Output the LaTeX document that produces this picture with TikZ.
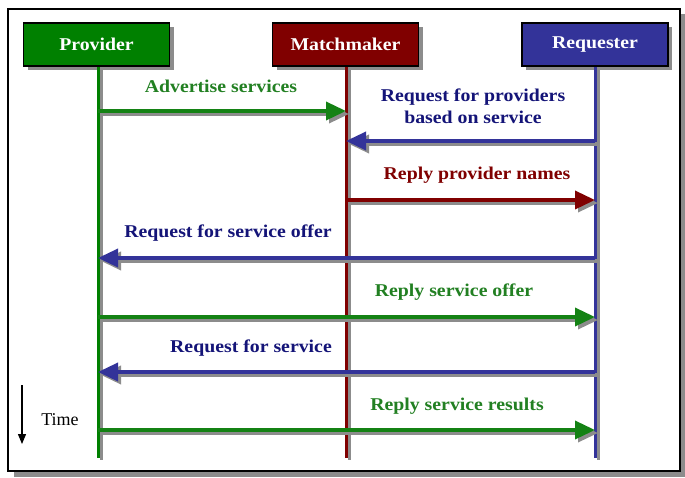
\documentclass[tikz,border=0pt]{standalone}
\usepackage{fontspec}
\setmainfont{Liberation Serif}
\newfontfamily\widefont[FakeStretch=1.1]{Liberation Serif}
\usetikzlibrary{arrows.meta,shadows}
\definecolor{provgreen}{RGB}{0,128,0}
\definecolor{msggreen}{RGB}{20,130,20}
\definecolor{txtgreen}{RGB}{34,128,34}
\definecolor{mmred}{RGB}{128,0,0}
\definecolor{reqblue}{RGB}{51,51,153}
\definecolor{txtblue}{RGB}{20,20,120}
\definecolor{shgray}{RGB}{140,140,140}
\begin{document}
\begin{tikzpicture}[x=1pt,y=-1pt,
  actor/.style={draw=black, line width=1.5pt, fill=#1, text=white, font=\widefont\fontsize{18}{21}\selectfont\bfseries,
    minimum width=146pt, minimum height=43pt, inner sep=0pt,
    drop shadow={shadow xshift=4pt, shadow yshift=-4pt, fill=shgray, opacity=1}},
  lifeline/.style={draw=#1, line width=3pt,
    preaction={draw=shgray, line width=3pt, transform canvas={shift={(3,2)}}}},
  msg/.style={draw=#1, line width=3.5pt, -{Triangle[length=20pt,width=18pt]},
    preaction={draw=shgray, line width=3.5pt, -{Triangle[length=20pt,width=18pt]}, transform canvas={shift={(3,3)}}}},
  lbl/.style={text=#1, font=\widefont\fontsize{18}{22}\selectfont\bfseries, inner sep=0pt, align=center}
]
\useasboundingbox (0,0) rectangle (685,477);
% frame
\fill[shgray] (14,14) rectangle (685,477);
\draw[line width=1.5pt, fill=white] (8,9) rectangle (680,471);

% actors
\node[actor=provgreen] (prov) at (96.5,44.5) {Provider};
\node[actor=mmred] (mm) at (345.5,44.5) {Matchmaker};
\node[actor=reqblue] (req) at (595,44.5) {Requester};

% lifeline ends
\coordinate (provend) at (98,458);
\coordinate (mmend) at (346,458);
\coordinate (reqend) at (595,458);
\draw[lifeline=provgreen] (prov.south -| provend) -- (provend);
\draw[lifeline=mmred] (mm.south -| mmend) -- (mmend);
\draw[lifeline=reqblue] (req.south -| reqend) -- (reqend);

% message points
\coordinate (p1) at (98,111);  \coordinate (m1) at (346,111);
\coordinate (r2) at (595,141); \coordinate (m2) at (346,141);
\coordinate (m3) at (346,200); \coordinate (r3) at (595,200);
\coordinate (r4) at (595,258); \coordinate (p4) at (98,258);
\coordinate (p5) at (98,317);  \coordinate (r5) at (595,317);
\coordinate (r6) at (595,372); \coordinate (p6) at (98,372);
\coordinate (p7) at (98,430);  \coordinate (r7) at (595,430);

\draw[msg=msggreen] (p1) -- (m1);
\draw[msg=reqblue] (r2) -- (m2);
\draw[msg=mmred] (m3) -- (r3);
\draw[msg=reqblue] (r4) -- (p4);
\draw[msg=msggreen] (p5) -- (r5);
\draw[msg=reqblue] (r6) -- (p6);
\draw[msg=msggreen] (p7) -- (r7);

% labels
\node[lbl=txtgreen] (l1) at (221,86) {Advertise services};
\node[lbl=txtblue] (l2) at (473,106) {Request for providers\\based on service};
\node[lbl=mmred] (l3) at (477,175) {Reply provider names};
\node[lbl=txtblue] (l4) at (228,233) {Request for service offer};
\node[lbl=txtgreen] (l5) at (454,292) {Reply service offer};
\node[lbl=txtblue] (l6) at (251,348) {Request for service};
\node[lbl=txtgreen] (l7) at (457,406) {Reply service results};

% time
\coordinate (t1) at (22,385);
\coordinate (t2) at (22,444);
\draw[line width=1.2pt, -{Triangle[length=10pt,width=8pt]}] (t1) -- (t2);
\node[font=\fontsize{18}{21}\selectfont, inner sep=0pt] (time) at (60,420) {Time};
\end{tikzpicture}
\end{document}
